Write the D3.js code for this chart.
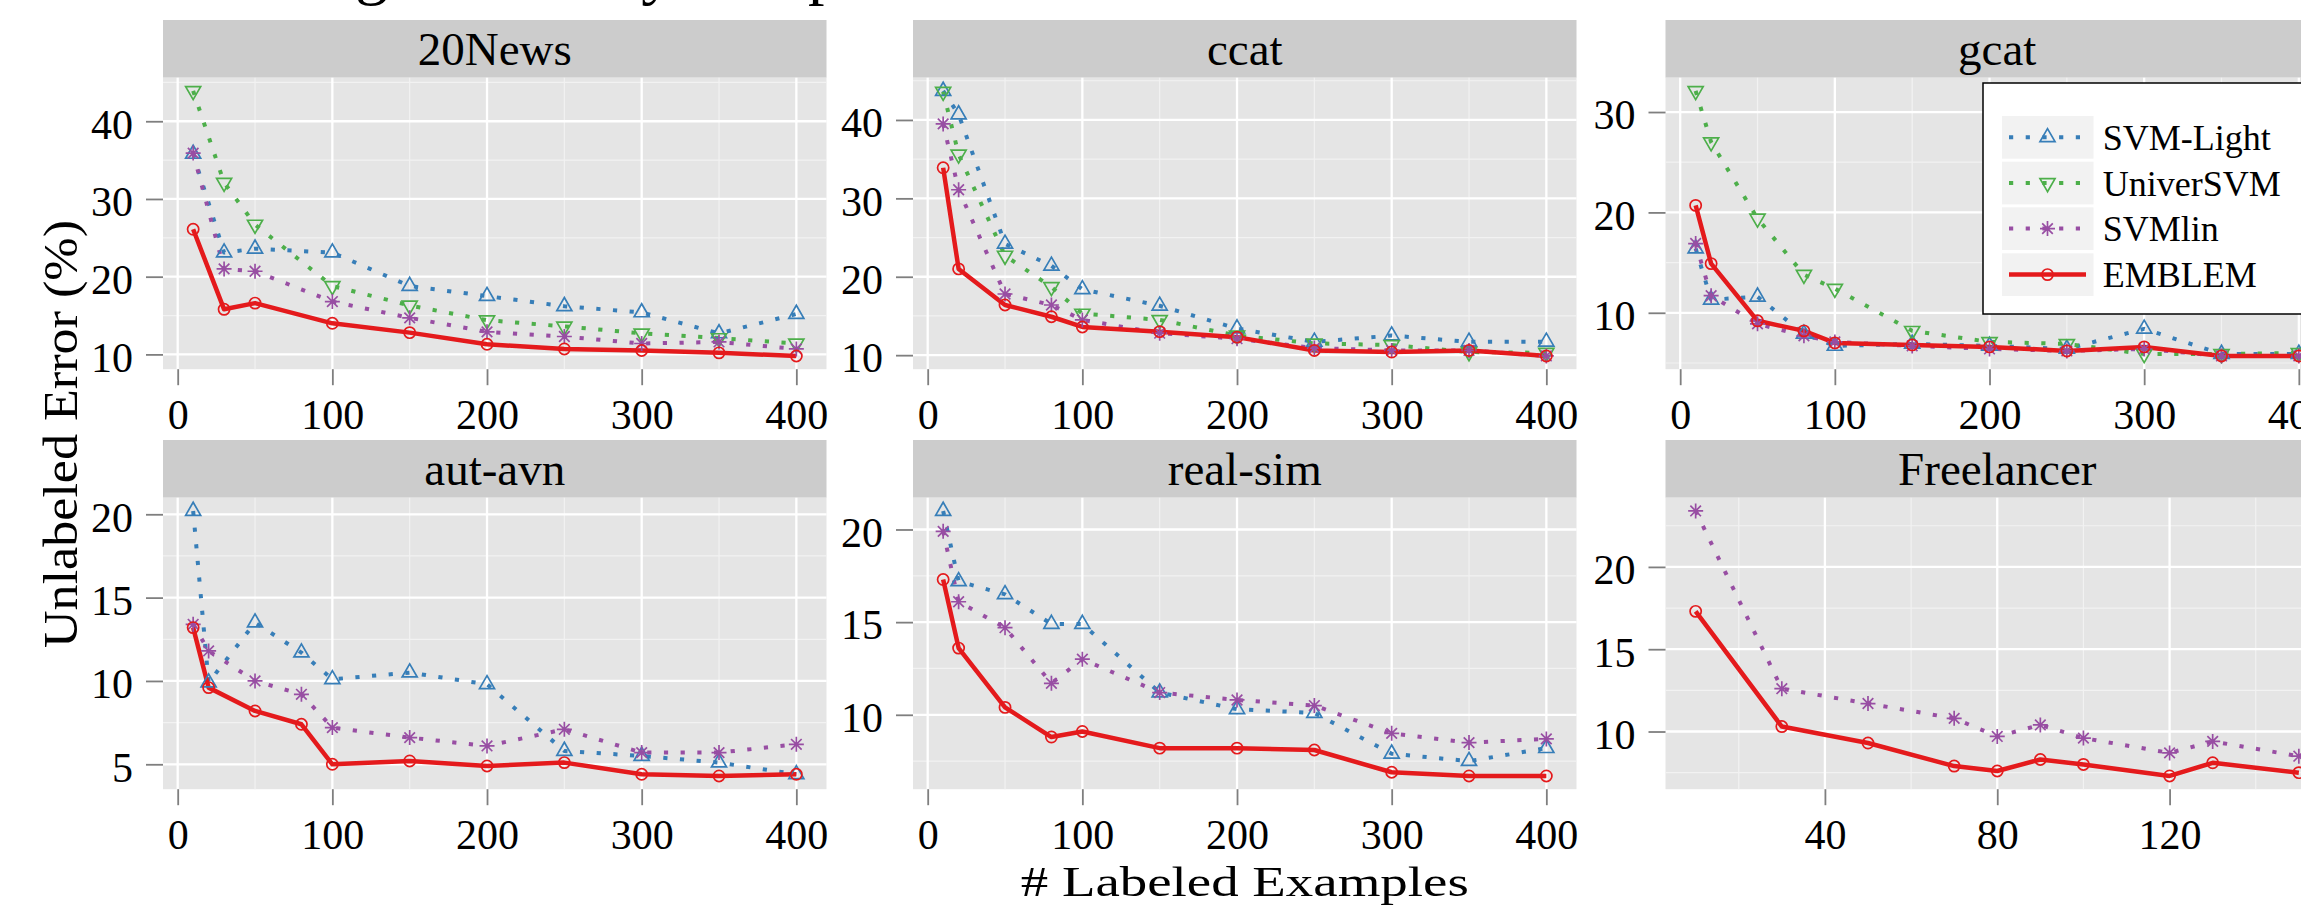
<!DOCTYPE html>
<html>
<head>
<meta charset="utf-8">
<script src="https://cdn.jsdelivr.net/npm/d3@7"></script>
<style>
  html, body { margin: 0; padding: 0; background: #fff; }
  svg { display: block; font-family: "Liberation Serif", "DejaVu Serif", serif; }
</style>
</head>
<body>
<div id="chart"></div>
<script>
// ---------------- data ----------------
var methods = ["SVM-Light", "UniverSVM", "SVMlin", "EMBLEM"];
var panelNames = ["20News", "ccat", "gcat", "aut-avn", "real-sim", "Freelancer"];

var xNews = [10, 30, 50, 100, 150, 200, 250, 300, 350, 400];
var newsLight = [35.8, 23.1, 23.6, 23.1, 18.8, 17.5, 16.2, 15.4, 12.7, 15.2];
var newsUniver = [43.9, 32.1, 26.7, 18.8, 16.3, 14.4, 13.6, 12.7, 12.1, 11.4];
var newsLin = [35.9, 21.0, 20.7, 16.8, 14.7, 12.9, 12.3, 11.4, 11.6, 10.7];
var newsEmblem = [26.1, 15.8, 16.6, 14.0, 12.8, 11.3, 10.7, 10.5, 10.2, 9.8];

var xCcat = [10, 20, 50, 80, 100, 150, 200, 250, 300, 350, 400];
var ccatLight = [43.7, 40.7, 24.2, 21.4, 18.4, 16.3, 13.4, 11.7, 12.5, 11.7, 11.7];
var ccatUniver = [43.6, 35.6, 22.7, 18.7, 15.3, 14.5, 12.5, 11.5, 11.3, 10.4, 10.3];
var ccatLin = [39.5, 31.1, 17.8, 16.4, 14.5, 12.8, 12.1, 10.9, 10.6, 10.6, 9.9];
var ccatEmblem = [33.9, 21.0, 16.4, 14.9, 13.6, 13.0, 12.3, 10.6, 10.4, 10.6, 9.9];

var xGcat = [10, 20, 50, 80, 100, 150, 200, 250, 300, 350, 400];
var gcatLight = [16.4, 11.3, 11.6, 7.9, 6.7, 6.9, 6.7, 6.4, 8.4, 5.9, 5.9];
var gcatUniver = [32.1, 27.0, 19.4, 13.8, 12.4, 8.2, 7.1, 6.9, 5.9, 5.9, 6.0];
var gcatLin = [16.9, 11.7, 8.9, 7.7, 7.1, 6.7, 6.4, 6.2, 6.4, 5.7, 5.7];
var gcatEmblem = [20.7, 14.9, 9.2, 8.2, 7.0, 6.8, 6.6, 6.2, 6.6, 5.7, 5.7];

var xAut = [10, 20, 50, 80, 100, 150, 200, 250, 300, 350, 400];
var autLight = [20.2, 9.9, 13.5, 11.7, 10.1, 10.5, 9.8, 5.8, 5.5, 5.1, 4.4];
var autLin = [13.4, 11.8, 10.0, 9.2, 7.2, 6.6, 6.1, 7.1, 5.7, 5.7, 6.2];
var autEmblem = [13.2, 9.6, 8.2, 7.4, 5.0, 5.2, 4.9, 5.1, 4.4, 4.3, 4.4];

var xReal = [10, 20, 50, 80, 100, 150, 200, 250, 300, 350, 400];
var realLight = [21.0, 17.2, 16.5, 14.9, 14.9, 11.2, 10.3, 10.1, 7.9, 7.5, 8.2];
var realLin = [19.9, 16.1, 14.7, 11.7, 13.0, 11.2, 10.8, 10.5, 9.0, 8.5, 8.7];
var realEmblem = [17.3, 13.6, 10.4, 8.8, 9.1, 8.2, 8.2, 8.1, 6.9, 6.7, 6.7];

var xFree = [10, 30, 50, 70, 80, 90, 100, 120, 130, 150];
var freeLin = [23.4, 12.6, 11.7, 10.8, 9.7, 10.4, 9.6, 8.7, 9.4, 8.5];
var freeEmblem = [17.3, 10.3, 9.3, 7.9, 7.6, 8.3, 8.0, 7.3, 8.1, 7.5];

// tick labels
var xTicksMain = [0, 100, 200, 300, 400];
var xTicksFree = [40, 80, 120];
var yTicksNews = [10, 20, 30, 40];
var yTicksCcat = [10, 20, 30, 40];
var yTicksGcat = [10, 20, 30];
var yTicksAut = [5, 10, 15, 20];
var yTicksReal = [10, 15, 20];
var yTicksFree = [10, 15, 20];

// ---------------- layout ----------------
var W = 2301, H = 906;
var colLeft = [163, 913, 1665.5];
var panelW = 663.5, panelH = 291.5, stripH = 57.7;
var rowTop = [77.7, 497.7];

var colors = {"SVM-Light": "#377EB8", "UniverSVM": "#4DAF4A", "SVMlin": "#984EA3", "EMBLEM": "#E41A1C"};
var shapes = {"SVM-Light": "up", "UniverSVM": "down", "SVMlin": "star", "EMBLEM": "circle"};

var panels = [
  {x: xNews, s: [newsLight, newsUniver, newsLin, newsEmblem], xt: xTicksMain, yt: yTicksNews},
  {x: xCcat, s: [ccatLight, ccatUniver, ccatLin, ccatEmblem], xt: xTicksMain, yt: yTicksCcat},
  {x: xGcat, s: [gcatLight, gcatUniver, gcatLin, gcatEmblem], xt: xTicksMain, yt: yTicksGcat},
  {x: xAut, s: [autLight, null, autLin, autEmblem], xt: xTicksMain, yt: yTicksAut},
  {x: xReal, s: [realLight, null, realLin, realEmblem], xt: xTicksMain, yt: yTicksReal},
  {x: xFree, s: [null, null, freeLin, freeEmblem], xt: xTicksFree, yt: yTicksFree}
];

var svg = d3.select("#chart").append("svg")
  .attr("width", W).attr("height", H);

// title, mostly cut off at the top edge
svg.append("text")
  .attr("x", 150).attr("y", -8)
  .style("font-size", "66px")
  .text("Learning Curves by Sample Size");

function markerPath(kind) {
  if (kind === "circle") return d3.symbol(d3.symbolCircle, Math.PI * 5.6 * 5.6)();
  if (kind === "up" || kind === "down") return d3.symbol(d3.symbolTriangle, 98)();
  // R pch 8: plus + times
  var L = 7.5, d = L / Math.SQRT2;
  return "M" + (-L) + ",0H" + L + "M0," + (-L) + "V" + L +
    "M" + (-d) + "," + (-d) + "L" + d + "," + d + "M" + (-d) + "," + d + "L" + d + "," + (-d);
}

function drawMarker(sel, m) {
  sel.append("path")
    .attr("d", markerPath(shapes[m]))
    .attr("transform", function() {
      var t = d3.select(this.parentNode).attr("data-t") || "";
      return t + (shapes[m] === "down" ? " rotate(180)" : "");
    })
    .attr("fill", "none")
    .attr("stroke", colors[m])
    .attr("stroke-width", 1.7);
}

function expand(ext) {
  var pad = (ext[1] - ext[0]) * 0.05;
  return [ext[0] - pad, ext[1] + pad];
}

function minorOf(ticks, dom) {
  var step = ticks.length > 1 ? ticks[1] - ticks[0] : 10;
  var out = [];
  [ticks[0] - step].concat(ticks).forEach(function(t) {
    var m = t + step / 2;
    if (m > dom[0] && m < dom[1]) out.push(m);
  });
  return out;
}

panels.forEach(function(p, i) {
  var col = i % 3, row = Math.floor(i / 3);
  var left = colLeft[col], top = rowTop[row];
  var name = panelNames[i];

  var allY = [];
  p.s.forEach(function(a) { if (a) allY = allY.concat(a); });
  var x = d3.scaleLinear().domain(expand(d3.extent(p.x))).range([0, panelW]);
  var y = d3.scaleLinear().domain(expand(d3.extent(allY))).range([panelH, 0]);

  // strip
  svg.append("rect")
    .attr("x", left).attr("y", top - stripH)
    .attr("width", panelW).attr("height", stripH)
    .attr("fill", "#cccccc");
  svg.append("text")
    .attr("x", left + panelW / 2).attr("y", top - stripH + 45)
    .attr("text-anchor", "middle")
    .style("font-size", "47px")
    .text(name);

  var g = svg.append("g").attr("transform", "translate(" + left + "," + top + ")");
  g.append("rect").attr("width", panelW).attr("height", panelH).attr("fill", "#e5e5e5");

  var xd = x.domain(), yd = y.domain();
  var xt = p.xt.filter(function(v) { return v >= xd[0] && v <= xd[1]; });
  var yt = p.yt.filter(function(v) { return v >= yd[0] && v <= yd[1]; });

  // minor grid
  g.selectAll(".mx").data(minorOf(p.xt, xd)).enter().append("line")
    .attr("x1", x).attr("x2", x).attr("y1", 0).attr("y2", panelH)
    .attr("stroke", "#f2f2f2").attr("stroke-width", 1.2);
  g.selectAll(".my").data(minorOf(p.yt, yd)).enter().append("line")
    .attr("y1", y).attr("y2", y).attr("x1", 0).attr("x2", panelW)
    .attr("stroke", "#f2f2f2").attr("stroke-width", 1.2);
  // major grid
  g.selectAll(".gx").data(xt).enter().append("line")
    .attr("x1", x).attr("x2", x).attr("y1", 0).attr("y2", panelH)
    .attr("stroke", "#ffffff").attr("stroke-width", 2.3);
  g.selectAll(".gy").data(yt).enter().append("line")
    .attr("y1", y).attr("y2", y).attr("x1", 0).attr("x2", panelW)
    .attr("stroke", "#ffffff").attr("stroke-width", 2.3);

  // axes
  var gx = g.append("g").attr("transform", "translate(0," + panelH + ")")
    .call(d3.axisBottom(x).tickValues(xt).tickSize(16).tickFormat(d3.format("d")));
  var gy = g.append("g")
    .call(d3.axisLeft(y).tickValues(yt).tickSize(17).tickPadding(13).tickFormat(d3.format("d")));
  [gx, gy].forEach(function(ax) {
    ax.attr("font-family", null).attr("font-size", null);
    ax.select(".domain").remove();
    ax.selectAll(".tick line").attr("stroke", "#7f7f7f").attr("stroke-width", 1.8);
    ax.selectAll(".tick text").attr("fill", "#000").style("font-size", "42px");
  });
  gx.selectAll(".tick text").attr("y", 59.5).attr("dy", null);
  gy.selectAll(".tick text").attr("dy", "0.4em");

  // clip
  var cid = "clip" + i;
  svg.append("clipPath").attr("id", cid).append("rect")
    .attr("width", panelW).attr("height", panelH);
  var plot = g.append("g").attr("clip-path", "url(#" + cid + ")");

  var line = d3.line().x(function(d) { return x(d[0]); }).y(function(d) { return y(d[1]); });

  methods.forEach(function(m, k) {
    var vals = p.s[k];
    if (!vals) return;
    var pts = p.x.map(function(v, j) { return [v, vals[j]]; });
    plot.append("path")
      .datum(pts)
      .attr("d", line)
      .attr("fill", "none")
      .attr("stroke", colors[m])
      .attr("stroke-width", m === "EMBLEM" ? 4.5 : 4)
      .attr("stroke-dasharray", m === "EMBLEM" ? null : "4.2 12.5")
      .attr("stroke-linejoin", "round");
  });
  methods.forEach(function(m, k) {
    var vals = p.s[k];
    if (!vals) return;
    p.x.forEach(function(v, j) {
      var t = "translate(" + x(v) + "," + y(vals[j]) + ")";
      var mg = plot.append("g").attr("data-t", t);
      drawMarker(mg, m);
    });
  });
});

// axis titles
svg.append("text")
  .attr("x", colLeft[1] + panelW / 2).attr("y", 896)
  .attr("text-anchor", "middle")
  .attr("textLength", 448).attr("lengthAdjust", "spacingAndGlyphs")
  .style("font-size", "43px")
  .text("# Labeled Examples");
svg.append("text")
  .attr("transform", "translate(77,434) rotate(-90)")
  .attr("text-anchor", "middle")
  .attr("textLength", 428).attr("lengthAdjust", "spacingAndGlyphs")
  .style("font-size", "48px")
  .text("Unlabeled Error (%)");

// legend inside the gcat panel
var lg = svg.append("g");
lg.append("rect")
  .attr("x", 1983).attr("y", 83).attr("width", 400).attr("height", 231)
  .attr("fill", "#fff").attr("stroke", "#000").attr("stroke-width", 1.5);
var keyTop = [116, 161.7, 207.3, 253.3];
methods.forEach(function(m, k) {
  var cy = keyTop[k] + 21.3;
  lg.append("rect")
    .attr("x", 2002).attr("y", keyTop[k]).attr("width", 91.5).attr("height", 42.7)
    .attr("fill", "#f2f2f2");
  lg.append("line")
    .attr("x1", 2009).attr("x2", 2086).attr("y1", cy).attr("y2", cy)
    .attr("stroke", colors[m])
    .attr("stroke-width", m === "EMBLEM" ? 4.5 : 4)
    .attr("stroke-dasharray", m === "EMBLEM" ? null : "4.2 12.5");
  var mg = lg.append("g").attr("data-t", "translate(2047.5," + cy + ")");
  drawMarker(mg, m);
  lg.append("text")
    .attr("x", 2102.7).attr("y", cy + 12.5)
    .style("font-size", "36px")
    .text(m);
});
</script>
</body>
</html>
